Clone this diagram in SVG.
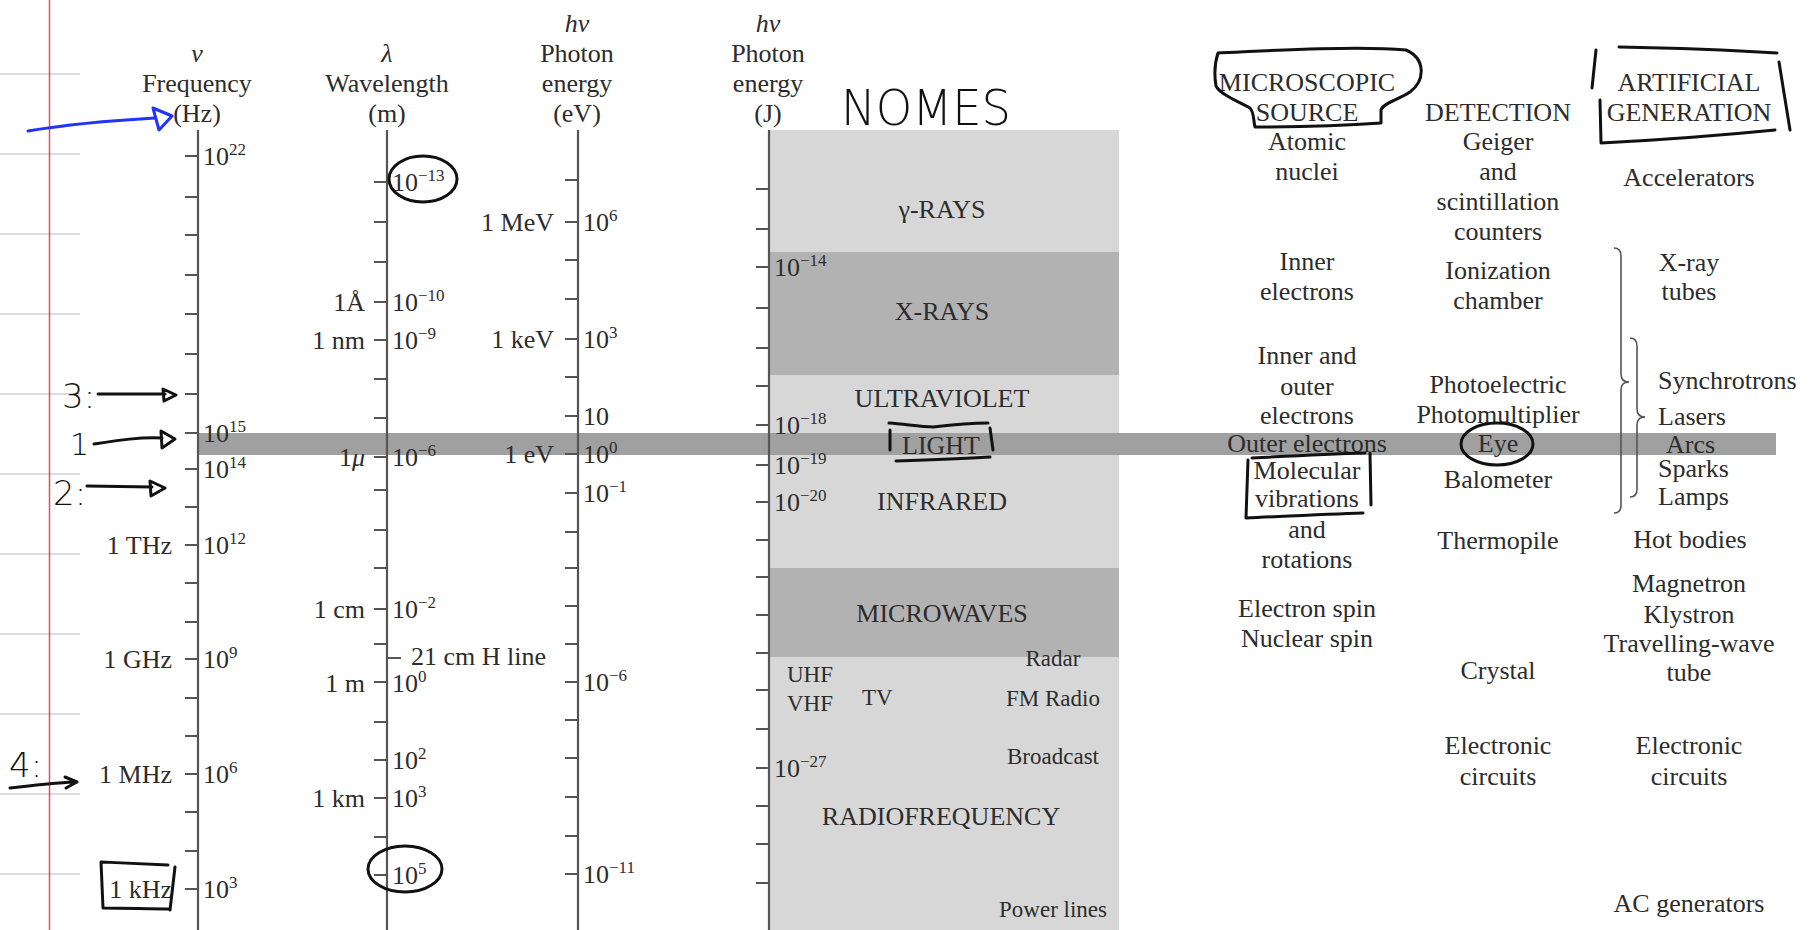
<svg xmlns="http://www.w3.org/2000/svg" width="1819" height="930" viewBox="0 0 1819 930">
  <defs>
    <style>
      .t { font-family: "Liberation Serif", "Times New Roman", serif; font-size: 26px; fill: #2c2c2c; }
      .i { font-style: italic; }
      .m { text-anchor: middle; }
      .e { text-anchor: end; }
      .sup { font-size: 17px; }
      .sm { font-size: 23px; }
      .axis { stroke: #555; stroke-width: 2.2; fill: none; }
      .brace { stroke: #555; stroke-width: 1.6; fill: none; }
      .ink { fill: none; stroke: #111; stroke-width: 3; stroke-linecap: round; stroke-linejoin: round; }
      .blue { fill: none; stroke: #2233ff; stroke-width: 3; stroke-linecap: round; stroke-linejoin: round; }
      .hand { font-family: "DejaVu Sans", "Liberation Sans", sans-serif; font-weight: 200; fill: #111; }
      .rule { stroke: #d2d2d2; stroke-width: 1.5; }
    </style>
  </defs>

  <rect width="1819" height="930" fill="#ffffff"/>

  <!-- notebook paper: ruled lines and margin -->
  <g id="paper">
    <path class="rule" d="M0 74h80M0 154h80M0 234h80M0 314h80M0 394h80M0 474h80M0 554h80M0 634h80M0 714h80M0 794h80M0 874h80"/>
    <line x1="49.5" y1="0" x2="49.5" y2="930" stroke="#e05050" stroke-width="1.5"/>
  </g>

  <!-- spectral regions -->
  <g id="regions">
    <rect x="769" y="130" width="350" height="800" fill="#d7d7d7"/>
    <rect x="769" y="252" width="350" height="123" fill="#b2b2b2"/>
    <rect x="769" y="568" width="350" height="89" fill="#b2b2b2"/>
    <rect id="visible-band" x="198" y="433" width="1578" height="22" fill="#a0a0a0"/>
  </g>

  <!-- frequency axis -->
  <g id="axis-frequency">
    <line class="axis" x1="198" y1="130" x2="198" y2="930"/>
    <path class="axis" d="M185 156h13M185 197h13M185 235h13M185 275h13M185 314h13M185 354h13M185 394h13M185 433h13M185 469h13M185 507h13M185 545h13M185 583h13M185 622h13M185 659h13M185 698h13M185 736h13M185 774h13M185 812h13M185 851h13M185 889h13"/>
    <text class="t i m" x="197" y="62">ν</text>
    <text class="t m" x="197" y="92">Frequency</text>
    <text class="t m" x="197" y="122">(Hz)</text>
    <text class="t" x="203" y="165">10<tspan class="sup" dy="-10">22</tspan></text>
    <text class="t" x="203" y="442">10<tspan class="sup" dy="-10">15</tspan></text>
    <text class="t" x="203" y="478">10<tspan class="sup" dy="-10">14</tspan></text>
    <text class="t" x="203" y="554">10<tspan class="sup" dy="-10">12</tspan></text>
    <text class="t" x="203" y="668">10<tspan class="sup" dy="-10">9</tspan></text>
    <text class="t" x="203" y="783">10<tspan class="sup" dy="-10">6</tspan></text>
    <text class="t" x="203" y="898">10<tspan class="sup" dy="-10">3</tspan></text>
    <text class="t e" x="172" y="554">1 THz</text>
    <text class="t e" x="172" y="668">1 GHz</text>
    <text class="t e" x="172" y="783">1 MHz</text>
    <text class="t e" x="172" y="898">1 kHz</text>
  </g>

  <!-- wavelength axis -->
  <g id="axis-wavelength">
    <line class="axis" x1="387" y1="130" x2="387" y2="930"/>
    <path class="axis" d="M374 182h13M374 222h13M374 262h13M374 302h13M374 340h13M374 379h13M374 418h13M374 457h13M374 490h13M374 530h13M374 568h13M374 609h13M374 644h13M374 682h13M374 722h13M374 760h13M374 798h13M374 837h13M374 875h13M387 658h14"/>
    <text class="t i m" x="387" y="62">λ</text>
    <text class="t m" x="387" y="92">Wavelength</text>
    <text class="t m" x="387" y="122">(m)</text>
    <text class="t" x="392" y="191">10<tspan class="sup" dy="-10">−13</tspan></text>
    <text class="t" x="392" y="311">10<tspan class="sup" dy="-10">−10</tspan></text>
    <text class="t" x="392" y="349">10<tspan class="sup" dy="-10">−9</tspan></text>
    <text class="t" x="392" y="466">10<tspan class="sup" dy="-10">−6</tspan></text>
    <text class="t" x="392" y="618">10<tspan class="sup" dy="-10">−2</tspan></text>
    <text class="t" x="411" y="665">21 cm H line</text>
    <text class="t" x="392" y="692">10<tspan class="sup" dy="-10">0</tspan></text>
    <text class="t" x="392" y="769">10<tspan class="sup" dy="-10">2</tspan></text>
    <text class="t" x="392" y="807">10<tspan class="sup" dy="-10">3</tspan></text>
    <text class="t" x="392" y="884">10<tspan class="sup" dy="-10">5</tspan></text>
    <text class="t e" x="365" y="311">1Å</text>
    <text class="t e" x="365" y="349">1 nm</text>
    <text class="t e" x="365" y="466">1<tspan class="i">μ</tspan></text>
    <text class="t e" x="365" y="618">1 cm</text>
    <text class="t e" x="365" y="692">1 m</text>
    <text class="t e" x="365" y="807">1 km</text>
  </g>

  <!-- photon energy axis, electron-volts -->
  <g id="axis-ev">
    <line class="axis" x1="578" y1="130" x2="578" y2="930"/>
    <path class="axis" d="M565 180h13M565 222h13M565 260h13M565 299h13M565 339h13M565 377h13M565 416h13M565 454h13M565 493h13M565 532h13M565 568h13M565 606h13M565 644h13M565 682h13M565 720h13M565 758h13M565 797h13M565 836h13M565 874h13"/>
    <text class="t i m" x="577" y="32">hν</text>
    <text class="t m" x="577" y="62">Photon</text>
    <text class="t m" x="577" y="92">energy</text>
    <text class="t m" x="577" y="122">(eV)</text>
    <text class="t" x="583" y="231">10<tspan class="sup" dy="-10">6</tspan></text>
    <text class="t" x="583" y="348">10<tspan class="sup" dy="-10">3</tspan></text>
    <text class="t" x="583" y="425">10</text>
    <text class="t" x="583" y="463">10<tspan class="sup" dy="-10">0</tspan></text>
    <text class="t" x="583" y="502">10<tspan class="sup" dy="-10">−1</tspan></text>
    <text class="t" x="583" y="691">10<tspan class="sup" dy="-10">−6</tspan></text>
    <text class="t" x="583" y="883">10<tspan class="sup" dy="-10">−11</tspan></text>
    <text class="t e" x="554" y="231">1 MeV</text>
    <text class="t e" x="554" y="348">1 keV</text>
    <text class="t e" x="554" y="463">1 eV</text>
  </g>

  <!-- photon energy axis, joules -->
  <g id="axis-joule">
    <line class="axis" x1="769" y1="130" x2="769" y2="930"/>
    <path class="axis" d="M756 189h13M756 229h13M756 267h13M756 308h13M756 348h13M756 386h13M756 425h13M756 465h13M756 502h13M756 540h13M756 577h13M756 615h13M756 653h13M756 690h13M756 729h13M756 768h13M756 806h13M756 844h13M756 883h13"/>
    <text class="t i m" x="768" y="32">hν</text>
    <text class="t m" x="768" y="62">Photon</text>
    <text class="t m" x="768" y="92">energy</text>
    <text class="t m" x="768" y="122">(J)</text>
    <text class="t" x="774" y="276">10<tspan class="sup" dy="-10">−14</tspan></text>
    <text class="t" x="774" y="434">10<tspan class="sup" dy="-10">−18</tspan></text>
    <text class="t" x="774" y="474">10<tspan class="sup" dy="-10">−19</tspan></text>
    <text class="t" x="774" y="511">10<tspan class="sup" dy="-10">−20</tspan></text>
    <text class="t" x="774" y="777">10<tspan class="sup" dy="-10">−27</tspan></text>
  </g>

  <!-- region names -->
  <g id="region-labels">
    <text class="t m" x="942" y="218">γ-RAYS</text>
    <text class="t m" x="942" y="320">X-RAYS</text>
    <text class="t m" x="942" y="407">ULTRAVIOLET</text>
    <text class="t m" x="941" y="454">LIGHT</text>
    <text class="t m" x="942" y="510">INFRARED</text>
    <text class="t m" x="942" y="622">MICROWAVES</text>
    <text class="t m" x="941" y="825">RADIOFREQUENCY</text>
    <text class="t sm m" x="1053" y="666">Radar</text>
    <text class="t sm" x="787" y="682">UHF</text>
    <text class="t sm" x="787" y="711">VHF</text>
    <text class="t sm" x="862" y="705">TV</text>
    <text class="t sm m" x="1053" y="706">FM Radio</text>
    <text class="t sm m" x="1053" y="764">Broadcast</text>
    <text class="t sm m" x="1053" y="917">Power lines</text>
  </g>

  <!-- microscopic source column -->
  <g id="col-source">
    <text class="t m" x="1307" y="91">MICROSCOPIC</text>
    <text class="t m" x="1307" y="121">SOURCE</text>
    <text class="t m" x="1307" y="150">Atomic</text>
    <text class="t m" x="1307" y="180">nuclei</text>
    <text class="t m" x="1307" y="270">Inner</text>
    <text class="t m" x="1307" y="300">electrons</text>
    <text class="t m" x="1307" y="364">Inner and</text>
    <text class="t m" x="1307" y="395">outer</text>
    <text class="t m" x="1307" y="424">electrons</text>
    <text class="t m" x="1307" y="452">Outer electrons</text>
    <text class="t m" x="1307" y="479">Molecular</text>
    <text class="t m" x="1307" y="507">vibrations</text>
    <text class="t m" x="1307" y="538">and</text>
    <text class="t m" x="1307" y="568">rotations</text>
    <text class="t m" x="1307" y="617">Electron spin</text>
    <text class="t m" x="1307" y="647">Nuclear spin</text>
  </g>

  <!-- detection column -->
  <g id="col-detection">
    <text class="t m" x="1498" y="121">DETECTION</text>
    <text class="t m" x="1498" y="150">Geiger</text>
    <text class="t m" x="1498" y="180">and</text>
    <text class="t m" x="1498" y="210">scintillation</text>
    <text class="t m" x="1498" y="240">counters</text>
    <text class="t m" x="1498" y="279">Ionization</text>
    <text class="t m" x="1498" y="309">chamber</text>
    <text class="t m" x="1498" y="393">Photoelectric</text>
    <text class="t m" x="1498" y="423">Photomultiplier</text>
    <text class="t m" x="1498" y="452">Eye</text>
    <text class="t m" x="1498" y="488">Balometer</text>
    <text class="t m" x="1498" y="549">Thermopile</text>
    <text class="t m" x="1498" y="679">Crystal</text>
    <text class="t m" x="1498" y="754">Electronic</text>
    <text class="t m" x="1498" y="785">circuits</text>
  </g>

  <!-- artificial generation column -->
  <g id="col-generation">
    <text class="t m" x="1689" y="91">ARTIFICIAL</text>
    <text class="t m" x="1689" y="121">GENERATION</text>
    <text class="t m" x="1689" y="186">Accelerators</text>
    <text class="t m" x="1689" y="271">X-ray</text>
    <text class="t m" x="1689" y="300">tubes</text>
    <text class="t" x="1658" y="389">Synchrotrons</text>
    <text class="t" x="1658" y="425">Lasers</text>
    <text class="t" x="1666" y="453">Arcs</text>
    <text class="t" x="1658" y="477">Sparks</text>
    <text class="t" x="1658" y="505">Lamps</text>
    <text class="t m" x="1690" y="548">Hot bodies</text>
    <text class="t m" x="1689" y="592">Magnetron</text>
    <text class="t m" x="1689" y="623">Klystron</text>
    <text class="t m" x="1689" y="652">Travelling-wave</text>
    <text class="t m" x="1689" y="681">tube</text>
    <text class="t m" x="1689" y="754">Electronic</text>
    <text class="t m" x="1689" y="785">circuits</text>
    <text class="t m" x="1689" y="912">AC generators</text>
    <path class="brace" d="M1614 248q7 0 7 8L1621 374q0 8 8 8q-8 0-8 8L1621 505q0 8-7 8"/>
    <path class="brace" d="M1630 338q7 0 7 8L1637 409q0 8 8 8q-8 0-8 8L1637 489q0 8-7 8"/>
  </g>

  <!-- pen notes -->
  <g id="notes">
    <text class="hand" x="841" y="125" font-size="50" textLength="170" lengthAdjust="spacingAndGlyphs">NOMES</text>
    <text class="hand" x="62" y="408" font-size="34">3:</text>
    <text class="hand" x="70" y="455" font-size="30">1</text>
    <text class="hand" x="53" y="505" font-size="34">2:</text>
    <text class="hand" x="9" y="777" font-size="34">4:</text>
    <ellipse class="ink" cx="423" cy="179" rx="34" ry="23"/>
    <ellipse class="ink" cx="405" cy="869" rx="37" ry="23"/>
    <ellipse class="ink" cx="1497" cy="444" rx="36" ry="21"/>
    <path class="ink" d="M1218 53C1280 50 1360 46 1406 50C1425 58 1426 80 1410 92C1398 100 1383 103 1381 110L1381 123C1340 126 1290 127 1255 127C1253 118 1254 112 1250 108C1235 100 1220 94 1216 86C1214 74 1215 62 1218 53Z"/>
    <path class="ink" d="M1596 50L1592 88M1600 100L1601 143M1619 47C1680 48 1730 50 1777 53M1779 62L1790 130M1601 143C1660 140 1705 137 1775 130"/>
    <path class="ink" d="M889 423C905 424 920 427 933 427C950 425 970 423 988 423M890 430L890 450M990 428L993 450M896 461C930 460 960 459 990 457"/>
    <path class="ink" d="M1252 458C1290 456 1330 454 1365 453M1248 460L1246 518M1370 453L1371 505M1246 518C1290 516 1330 514 1363 513"/>
    <path class="ink" d="M101 862C125 863 150 864 168 865M101 862L103 908M175 867L170 910M103 908C125 908 150 909 170 909"/>
  </g>

  <!-- pen arrows -->
  <g id="connectors">
    <path class="blue" d="M28 131C70 124 120 120 155 118"/>
    <path class="blue" d="M153 108L172 116L159 130Z"/>
    <path class="ink" d="M98 394L165 394M163 389L176 395L164 401Z"/>
    <path class="ink" d="M94 444C120 440 140 437 162 438M161 431L175 439L162 448Z"/>
    <path class="ink" d="M87 486L152 487M150 481L165 488L151 496Z"/>
    <path class="ink" d="M10 788C35 785 55 783 72 782M65 777L77 782L66 788"/>
  </g>
</svg>
